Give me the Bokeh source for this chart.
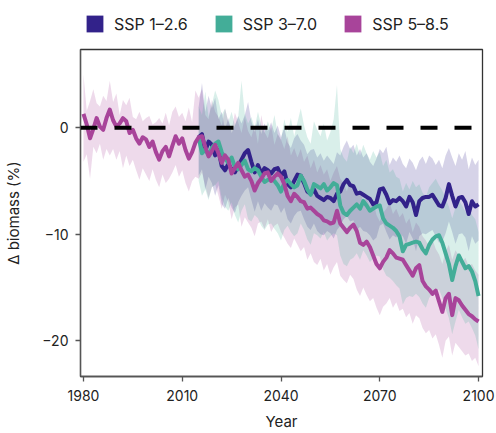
from bokeh.plotting import figure
from bokeh.layouts import column
from bokeh.models import Range1d, FixedTicker, Span, Legend, LegendItem, ColumnDataSource
from bokeh.embed import file_html
from bokeh.resources import INLINE

# ---- data -------------------------------------------------------------
years_all = list(range(1980, 2101))
years_ssp = list(range(2015, 2101))

ssp585_mean = [
    1.3, 0.3, -1.0, -0.1, 0.9, 0.1, -0.2, 0.9, 1.7, 0.7,
    0.1, 0.4, 0.9, 0.6, -0.5, -0.2, -1.0, -1.5, -0.9, -1.1,
    -1.8, -1.3, -2.3, -3.0, -2.2, -1.8, -2.7, -1.7, -0.8, -1.5,
    -1.0, -2.1, -2.9, -2.3, -1.4, -0.9, -0.8, -1.8, -2.7, -2.2,
    -1.6, -2.4, -3.3, -2.6, -3.0, -4.3, -3.8, -3.3, -4.0, -4.6,
    -4.4, -5.0, -5.9, -5.2, -4.8, -4.3, -4.2, -5.0, -4.6, -4.3,
    -4.6, -5.3, -6.4, -6.9, -6.2, -6.5, -6.9, -7.0, -7.6, -7.5,
    -7.8, -8.1, -8.3, -8.7, -8.8, -9.0, -8.9, -7.8, -9.0, -9.4,
    -9.8, -9.4, -9.1, -9.7, -10.8, -11.0, -10.7, -11.2, -12.0, -12.8,
    -13.2, -12.6, -12.2, -11.5, -11.8, -12.2, -12.3, -12.4, -12.9, -13.4,
    -13.9, -13.2, -12.9, -14.4, -14.9, -15.2, -15.6, -15.3, -16.3, -17.3,
    -16.0, -15.6, -17.6, -16.0, -16.2, -16.7, -17.1, -17.5, -17.7, -18.0,
    -18.2,
]
ssp585_upper = [
    5.0, 1.6, 2.5, 3.6, 2.3, 2.0, 3.0, 2.5, 4.4, 2.4,
    3.2, 1.2, 2.6, 2.1, 2.8, 1.0, 0.8, 1.5, 0.6, 0.9,
    1.1, 0.3, 0.5, 0.9, 0.4, 1.4, 0.2, 1.5, 2.0, 1.0,
    1.4, 0.6, 1.9, 0.5, 3.5, 2.8, 3.6, 1.2, 0.8, 2.6,
    1.5, 1.0, 0.2, 1.8, 0.6, -0.2, 1.4, 0.5, -0.5, 1.0,
    -0.3, -0.9, 0.2, -1.5, 1.2, -0.4, -1.0, 0.3, -1.6, -0.6,
    -1.1, -2.0, -0.8, -2.6, -1.9, -2.8, -2.0, -3.2, -2.6, -3.8,
    -3.0, -4.2, -3.5, -4.4, -3.9, -5.0, -4.2, -3.6, -4.8, -5.2,
    -6.0, -5.0, -5.6, -6.3, -5.8, -7.0, -6.6, -7.4, -6.9, -8.2,
    -8.8, -8.0, -7.6, -7.0, -8.1, -7.6, -8.4, -8.0, -9.0, -8.5,
    -9.8, -8.9, -9.3, -10.2, -10.6, -11.2, -10.5, -11.4, -11.9, -12.8,
    -11.6, -11.0, -12.4, -11.5, -12.0, -12.6, -12.2, -13.0, -12.8, -13.4,
    -13.8,
]
ssp585_lower = [
    -3.2, -2.5, -4.8, -1.8, -2.4, -1.5, -3.0, -2.0, -2.6, -2.0,
    -3.0, -2.2, -3.8, -2.6, -3.6, -3.0, -4.0, -4.9, -3.8, -4.4,
    -5.0, -3.9, -4.9, -5.6, -4.4, -5.2, -4.8, -4.2, -3.5, -4.6,
    -4.0, -5.2, -6.0, -5.0, -4.6, -4.8, -4.2, -5.5, -6.6, -5.6,
    -5.3, -6.4, -7.6, -6.3, -7.0, -8.6, -7.5, -7.2, -9.3, -8.4,
    -8.9, -9.4, -10.2, -9.0, -8.8, -9.5, -8.6, -9.8, -9.2, -9.0,
    -9.8, -10.3, -10.9, -11.3, -10.4, -11.0, -11.6, -11.2, -12.4, -11.8,
    -12.6, -12.9, -12.3, -13.4, -12.8, -13.8, -13.1, -12.6, -13.9, -14.3,
    -14.6, -13.8, -14.2, -15.2, -15.8, -15.0, -15.7, -16.3, -16.0, -16.9,
    -17.6, -16.8, -16.5, -16.0, -16.9, -16.4, -17.2, -17.0, -17.8, -17.4,
    -18.4, -17.6, -17.9, -18.8, -19.3, -19.0, -19.8, -19.4, -20.4, -21.6,
    -20.0, -19.6, -21.4, -20.2, -20.6, -21.0, -21.4, -21.2, -21.9, -21.6,
    -22.4,
]

ssp126_mean = [
    -0.9, -0.6, -2.2, -1.3, -1.6, -2.6, -2.1, -3.6, -4.0, -3.4,
    -3.9, -4.2, -3.6, -3.0, -2.4, -2.1, -3.2, -4.2, -3.5, -4.3,
    -3.8, -4.0, -4.3, -3.9, -3.8, -4.5, -4.1, -5.3, -5.6, -5.0,
    -4.4, -4.5, -5.2, -6.0, -6.2, -5.8, -6.4, -6.6, -6.8, -6.5,
    -6.6, -6.9, -6.2, -6.0, -5.3, -4.9, -5.4, -5.5, -6.2, -6.1,
    -6.3, -6.5, -6.7, -7.2, -7.0, -5.8, -5.7, -6.3, -7.1, -6.8,
    -6.9, -6.6, -6.9, -7.4, -6.5, -7.0, -8.2, -6.9, -6.6, -6.5,
    -6.5, -6.3, -6.8, -7.3, -7.4, -6.6, -5.3, -6.4, -7.4, -6.6,
    -6.5, -7.0, -8.1, -6.9, -7.4, -7.2,
]
ssp126_upper = [
    2.0, 4.2, 1.5, 3.0, 1.8, 2.8, 0.8, 1.5, -0.2, 0.9,
    -0.5, 0.2, 1.1, 0.4, 1.2, 2.4, 0.6, -0.4, 0.8, -0.6,
    0.4, -0.3, 0.5, -0.5, 0.2, -0.9, 0.0, -1.4, -1.9, -1.0,
    -0.6, -1.2, -1.6, -2.5, -2.1, -2.0, -2.8, -2.4, -3.1, -2.6,
    -3.0, -3.4, -2.3, -2.6, -1.8, -1.2, -2.0, -1.6, -2.6, -2.0,
    -2.8, -2.4, -3.2, -3.6, -2.9, -2.0, -2.4, -1.8, -3.5, -2.8,
    -3.2, -2.6, -3.4, -3.8, -2.9, -3.3, -4.0, -3.1, -2.7, -3.4,
    -2.6, -2.9, -3.5, -3.0, -3.8, -2.6, -1.9, -2.8, -3.6, -2.4,
    -3.0, -2.2, -3.9, -2.8, -3.5, -3.0,
]
ssp126_lower = [
    -4.5, -3.9, -5.8, -4.6, -5.2, -6.4, -5.4, -7.2, -7.6, -6.6,
    -7.5, -8.0, -7.0, -6.4, -5.9, -5.6, -6.8, -7.9, -6.9, -7.8,
    -7.1, -7.5, -7.8, -7.2, -7.3, -8.0, -7.5, -8.6, -9.0, -8.3,
    -7.9, -7.8, -8.6, -9.3, -9.6, -9.0, -9.7, -10.0, -10.1, -9.7,
    -9.9, -10.4, -9.6, -9.2, -8.6, -8.3, -8.8, -8.7, -9.6, -9.3,
    -9.7, -9.8, -10.1, -10.6, -10.3, -9.2, -9.0, -9.8, -10.5, -10.1,
    -10.3, -9.9, -10.2, -10.9, -9.8, -10.4, -11.6, -10.2, -9.9, -10.0,
    -9.8, -9.6, -10.2, -10.8, -10.7, -9.9, -8.8, -9.8, -10.9, -10.0,
    -9.9, -10.3, -11.6, -10.2, -10.9, -10.6,
]

ssp370_mean = [
    -0.9, -2.4, -2.0, -2.6, -1.9, -1.5, -1.3, -2.3, -2.9, -3.3,
    -2.8, -3.7, -3.9, -3.5, -3.1, -3.9, -4.1, -3.8, -4.0, -4.6,
    -5.1, -4.9, -4.8, -5.0, -5.4, -6.0, -5.2, -4.9, -5.3, -5.6,
    -5.4, -4.5, -5.0, -5.8, -6.3, -5.3, -5.5, -5.7, -5.3, -5.9,
    -5.6, -5.2, -5.4, -7.3, -8.0, -8.2, -7.8, -7.5, -7.2, -7.6,
    -6.9, -7.3, -7.8, -7.6, -7.4, -7.3, -8.5, -9.0, -9.2, -9.4,
    -9.7, -10.2, -11.6, -11.0, -10.9, -10.8, -10.7, -10.8, -11.4, -11.8,
    -11.0, -10.5, -10.2, -10.1, -10.8, -11.8, -12.8, -14.3, -13.0, -12.0,
    -12.6, -13.2, -13.0, -13.5, -14.4, -15.8,
]
ssp370_upper = [
    2.0, 1.2, 3.4, 1.0, 2.2, 3.5, 2.6, 1.2, 1.8, 0.5,
    1.5, 0.2, 1.0, 4.4, 1.3, 0.4, 1.0, 0.0, 1.5, 0.2,
    -0.5, 0.6, -0.3, 1.2, -0.6, -1.2, 0.8, -0.4, 0.9, -0.8,
    0.5, 1.8, 0.2, -0.9, -1.5, 0.6, -0.2, -0.8, 0.4, -1.2,
    -0.4, 0.8, 4.0, -2.0, -2.8, -3.2, -1.8, -2.4, -1.5, -2.6,
    -1.6, -2.4, -3.0, -2.2, -2.8, -2.3, -3.6, -3.0, -4.2, -3.9,
    -4.6, -4.8, -6.0, -5.2, -5.8, -5.0, -5.6, -5.3, -6.1, -6.5,
    -5.6, -5.2, -4.8, -5.4, -5.9, -6.7, -7.4, -8.5, -7.5, -6.8,
    -7.3, -7.9, -7.4, -8.2, -8.6, -9.8,
]
ssp370_lower = [
    -5.0, -6.4, -5.8, -6.8, -5.6, -5.4, -5.0, -6.6, -7.4, -7.8,
    -7.0, -8.2, -8.9, -7.8, -7.2, -8.6, -8.8, -8.2, -8.5, -9.2,
    -9.6, -9.1, -9.0, -9.5, -9.9, -10.6, -9.6, -9.2, -9.8, -10.2,
    -9.9, -9.0, -9.6, -10.5, -11.0, -9.9, -10.1, -10.4, -9.8, -10.6,
    -10.2, -9.9, -10.1, -12.0, -12.8, -13.0, -12.4, -12.2, -11.8, -12.4,
    -11.5, -12.0, -12.6, -12.3, -12.0, -12.1, -13.3, -13.9, -14.1, -14.4,
    -14.8, -15.1, -16.6, -16.0, -15.8, -15.9, -15.6, -15.9, -16.5, -16.9,
    -16.0, -15.6, -15.3, -15.2, -16.0, -17.0, -17.9, -19.4, -18.2, -17.1,
    -17.8, -18.4, -18.2, -18.8, -19.5, -20.8,
]

scenario_labels = ["SSP 1\u20132.6", "SSP 3\u20137.0", "SSP 5\u20138.5"]
scenario_colors = ["#32228a", "#43ad98", "#a8449a"]

x_ticks = [1980, 2010, 2040, 2070, 2100]
y_ticks = [-20, -10, 0]

FONT = "Inter"
NAN = float("nan")

# ---- legend strip -------------------------------------------------------
key = figure(width=496, height=48, output_backend="svg", toolbar_location=None,
             x_range=Range1d(0, 1), y_range=Range1d(0, 1),
             min_border=0, outline_line_color=None)
key.axis.visible = False
key.grid.visible = False
items = []
for lab, col in zip(scenario_labels, scenario_colors):
    # swatch proxies: one undefined row so nothing lands in the frame
    src = ColumnDataSource(dict(left=[NAN], right=[NAN], top=[NAN], bottom=[NAN]))
    r = key.quad(left="left", right="right", top="top", bottom="bottom",
                 source=src, fill_color=col, line_color=None)
    items.append(LegendItem(label=lab, renderers=[r], index=0))
legend = Legend(items=items, orientation="horizontal", location=(4, 14),
                glyph_width=21, glyph_height=21, label_standoff=9, spacing=25,
                padding=0, margin=0, border_line_color=None,
                background_fill_alpha=0, label_text_font=FONT,
                label_text_font_size="16px", label_text_color="#222222")
key.add_layout(legend)

# ---- main panel ----------------------------------------------------------
p = figure(width=496, height=385, output_backend="svg", toolbar_location=None,
           x_range=Range1d(1979.1, 2101.2), y_range=Range1d(-23.36, 7.34),
           min_border_left=80, min_border_right=14, min_border_top=1,
           min_border_bottom=55)
p.grid.visible = False
p.outline_line_color = "#333333"
p.outline_line_width = 1.3

# spread bands (model range)
p.varea(x=years_all, y1=ssp585_lower, y2=ssp585_upper,
        fill_color=scenario_colors[2], fill_alpha=0.2)
p.varea(x=years_ssp, y1=ssp126_lower, y2=ssp126_upper,
        fill_color=scenario_colors[0], fill_alpha=0.2)
p.varea(x=years_ssp, y1=ssp370_lower, y2=ssp370_upper,
        fill_color=scenario_colors[1], fill_alpha=0.2)

# ensemble means
p.line(years_ssp, ssp126_mean, line_color=scenario_colors[0], line_width=4,
       line_join="round")
p.line(years_ssp, ssp370_mean, line_color=scenario_colors[1], line_width=4,
       line_join="round")
p.line(years_all, ssp585_mean, line_color=scenario_colors[2], line_width=4,
       line_join="round")

# zero reference
p.add_layout(Span(location=0, dimension="width", line_color="black",
                  line_width=4, line_dash="17 17"))

# axes
for ax in (p.xaxis[0], p.yaxis[0]):
    ax.axis_line_color = "#555555"
    ax.axis_line_width = 1.3
    ax.major_tick_line_color = "#555555"
    ax.major_tick_line_width = 1.3
    ax.major_tick_in = 0
    ax.major_tick_out = 5
    ax.minor_tick_line_color = None
    ax.major_label_text_font = FONT
    ax.major_label_text_font_size = "14px"
    ax.major_label_text_color = "#222222"
    ax.axis_label_text_font = FONT
    ax.axis_label_text_font_size = "15px"
    ax.axis_label_text_font_style = "normal"
    ax.axis_label_text_color = "#222222"

p.xaxis.ticker = FixedTicker(ticks=x_ticks)
p.xaxis.major_label_overrides = {t: str(t) for t in x_ticks}
p.xaxis.major_label_standoff = 8
p.xaxis.axis_label = "Year"
p.xaxis.axis_label_standoff = 8

p.yaxis.ticker = FixedTicker(ticks=y_ticks)
p.yaxis.major_label_overrides = {t: (str(t).replace("-", "\u2212")) for t in y_ticks}
p.yaxis.major_label_standoff = 7
p.yaxis.axis_label = "\u0394 biomass (%)"
p.yaxis.axis_label_standoff = 16

layout = column(key, p, spacing=0)
open("out.html", "w").write(file_html(layout, INLINE))
